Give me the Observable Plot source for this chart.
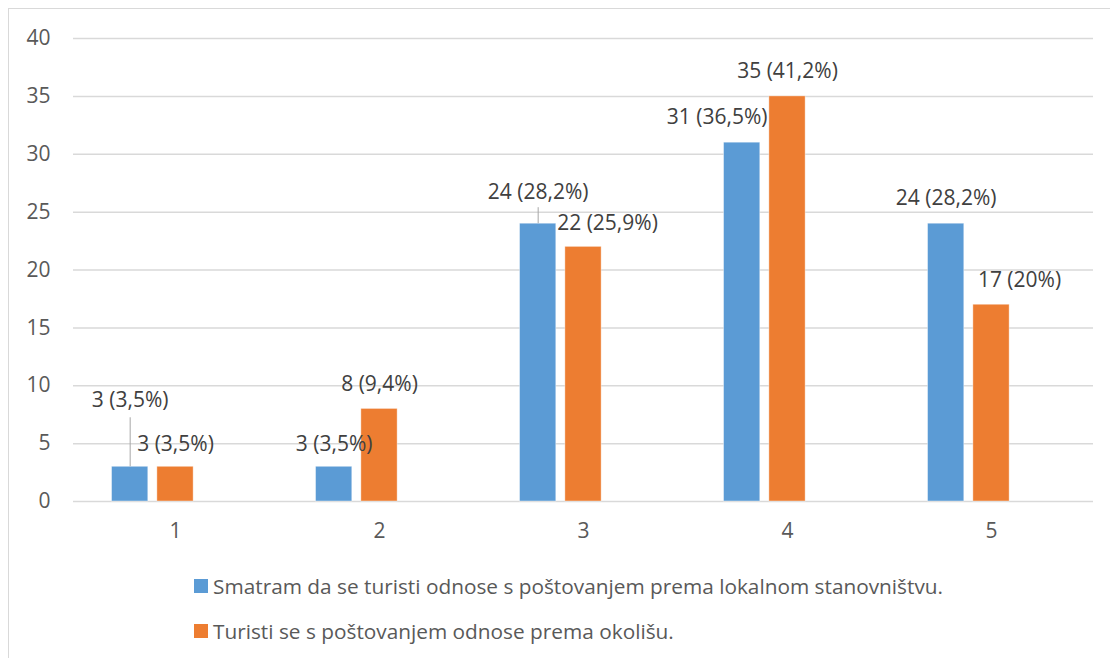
<!DOCTYPE html>
<html>
<head>
<meta charset="utf-8">
<script src="https://cdn.jsdelivr.net/npm/d3@7"></script>
<script src="https://cdn.jsdelivr.net/npm/@observablehq/plot@0.6"></script>
<style>
  html, body { margin: 0; padding: 0; background: #fff; overflow: hidden; width: 1110px; height: 658px; }
  #frame { position: absolute; left: 8px; top: 8px; width: 1130px; height: 700px; border: 1.5px solid #d9d9d9; box-sizing: border-box; }
  #chart { position: absolute; left: 0; top: 0; }
  .lg-row { position: absolute; left: 194px; height: 14px; display: flex; align-items: center; font-family: "Open Sans", sans-serif; font-size: 20.8px; color: #595959; white-space: nowrap; }
  .lg-sw { width: 14px; height: 14px; margin-right: 5px; flex: none; }
</style>
</head>
<body>
<div id="frame"></div>
<div id="chart"></div>
<div id="legend"></div>
<script>
// ---- data ----
const categories = ["1", "2", "3", "4", "5"];
const seriesNames = [
  "Smatram da se turisti odnose s poštovanjem prema lokalnom stanovništvu.",
  "Turisti se s poštovanjem odnose prema okolišu."
];
const series1Values = [3, 3, 24, 31, 24];
const series2Values = [3, 8, 22, 35, 17];
const series1Percent = [3.5, 3.5, 28.2, 36.5, 28.2];
const series2Percent = [3.5, 9.4, 25.9, 41.2, 20];
const yTicks = [0, 5, 10, 15, 20, 25, 30, 35, 40];

// ---- styling / label placement (pixels) ----
const seriesColors = ["#5B9BD5", "#ED7D31"];
const series1LabelNudge = [[0, -67], [0, -23], [0, -31], [-25, -25], [0, -25]];
const series2LabelNudge = [[0, -23], [0, -25], [24, -24], [0, -25], [28, -24]];
const series1Leader = [49, 0, 16, 0, 0];
const series2Leader = [0, 0, 0, 0, 0];

const fmtPct = p => String(p).replace(".", ",") + "%";
const rows = [];
categories.forEach((c, i) => {
  rows.push({category: c, series: seriesNames[0], value: series1Values[i],
    label: `${series1Values[i]} (${fmtPct(series1Percent[i])})`,
    dx: series1LabelNudge[i][0], dy: series1LabelNudge[i][1], leader: series1Leader[i]});
  rows.push({category: c, series: seriesNames[1], value: series2Values[i],
    label: `${series2Values[i]} (${fmtPct(series2Percent[i])})`,
    dx: series2LabelNudge[i][0], dy: series2LabelNudge[i][1], leader: series2Leader[i]});
});

const font = '"Open Sans", sans-serif';

const chart = Plot.plot({
  width: 1110,
  height: 551,
  marginLeft: 73,
  marginRight: 17,
  marginTop: 38,
  marginBottom: 50,
  style: {fontFamily: font, fontSize: "21px", color: "#595959", background: "transparent"},
  fx: {domain: categories, padding: 0, round: false, axis: "bottom", tickSize: 0, tickPadding: 22, label: null},
  x: {domain: [...seriesNames, "(empty)"], paddingInner: 0.2, paddingOuter: 0.85, round: false, axis: null},
  y: {domain: [0, 40], ticks: yTicks, tickSize: 0, tickPadding: 23, label: null},
  color: {domain: seriesNames, range: seriesColors},
  marks: [
    Plot.ruleY(yTicks, {stroke: "#d9d9d9", strokeWidth: 1.5}),
    Plot.barY(rows, {fx: "category", x: "series", y: "value", fill: "series",
      stroke: "#fff", strokeWidth: 0.8, strokeOpacity: 0.5}),
    ...rows.filter(r => r.leader > 0).map(r =>
      Plot.ruleX([r], {fx: "category", x: "series", y1: "value", y2: "value",
        insetTop: -r.leader, stroke: "#a6a6a6", strokeWidth: 1})),
    ...rows.map(r =>
      Plot.text([r], {fx: "category", x: "series", y: "value", text: "label",
        dx: r.dx, dy: r.dy, fill: "#404040", fontSize: 21}))
  ]
});
document.getElementById("chart").appendChild(chart);

// legend
const legend = document.getElementById("legend");
const legendTops = [579, 624];
seriesNames.forEach((name, i) => {
  const row = document.createElement("div");
  row.className = "lg-row";
  row.style.top = legendTops[i] + "px";
  const sw = document.createElement("span");
  sw.className = "lg-sw";
  sw.style.background = seriesColors[i];
  const tx = document.createElement("span");
  tx.textContent = name;
  row.appendChild(sw);
  row.appendChild(tx);
  legend.appendChild(row);
});
</script>
</body>
</html>
